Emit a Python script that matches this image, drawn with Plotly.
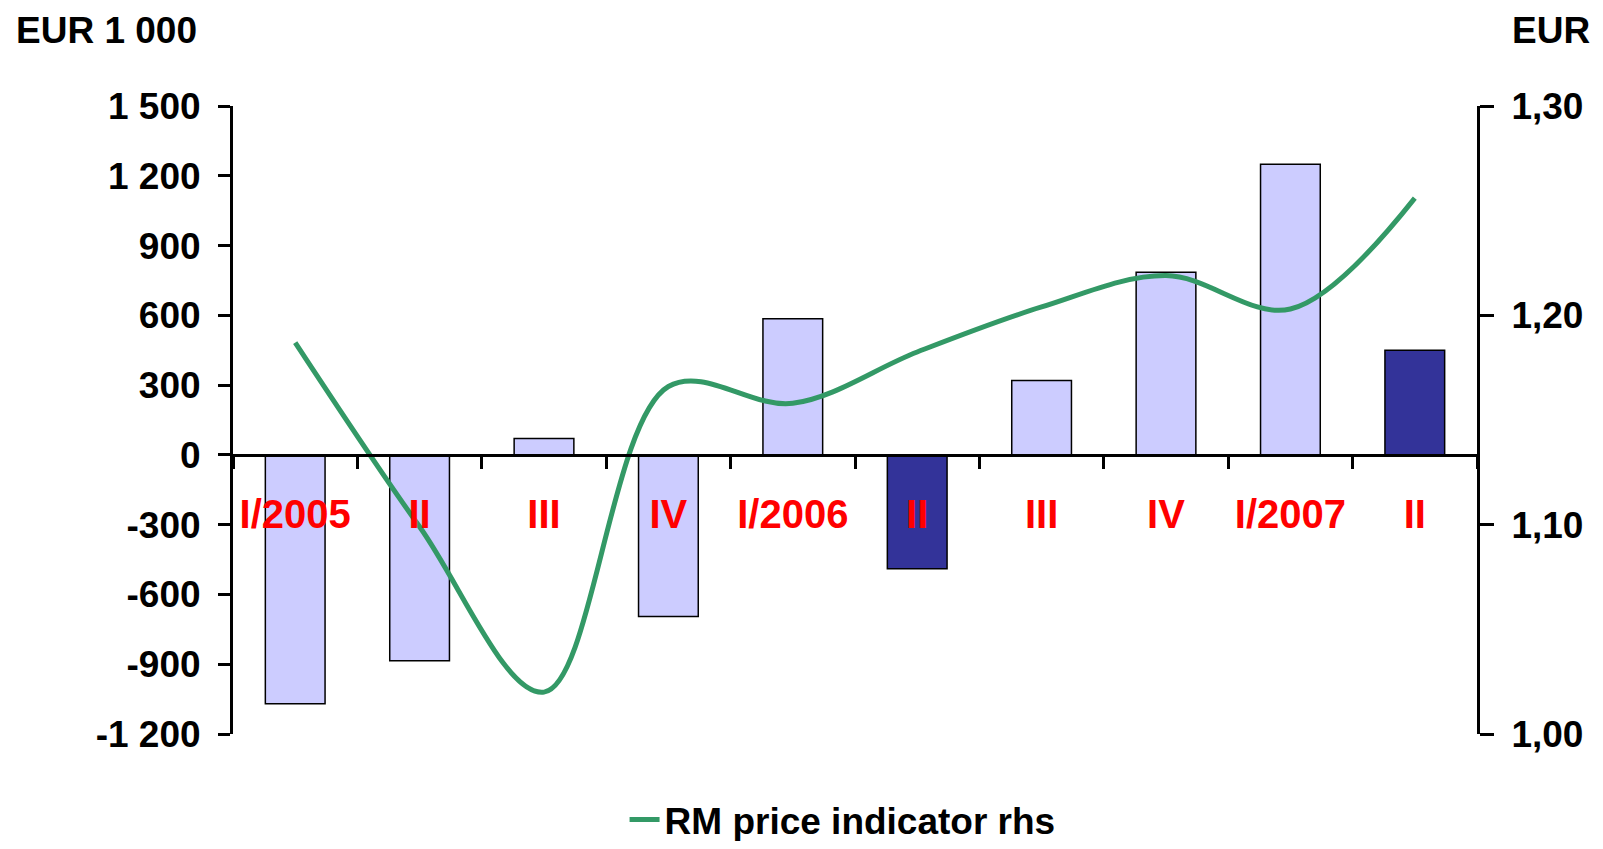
import plotly.graph_objects as go

# ---- data ----
quarters = ["I/2005", "II", "III", "IV", "I/2006", "II", "III", "IV", "I/2007", "II"]
flows = [-1070, -885, 70, -695, 585, -490, 320, 785, 1250, 450]          # EUR 1 000 (lhs)
price = [1.187, 1.099, 1.020, 1.166, 1.158, 1.1825, 1.204, 1.219, 1.203, 1.256]  # EUR (rhs)
bar_colors = ["#CCCCFF", "#CCCCFF", "#CCCCFF", "#CCCCFF", "#CCCCFF",
              "#333399", "#CCCCFF", "#CCCCFF", "#CCCCFF", "#333399"]
left_ticks = [-1200, -900, -600, -300, 0, 300, 600, 900, 1200, 1500]
left_labels = ["-1 200", "-900", "-600", "-300", "0", "300", "600", "900", "1 200", "1 500"]
right_ticks = [1.00, 1.10, 1.20, 1.30]
right_labels = ["1,00", "1,10", "1,20", "1,30"]
line_name = "RM price indicator rhs"

idx = list(range(len(quarters)))
LEFT_RANGE = [-1200, 1500]
FONT = "Liberation Sans, Arial, sans-serif"
TXT = 37
MT, PH = 98, 628

fig = go.Figure()
fig.add_trace(go.Bar(
    x=idx, y=flows, width=0.48,
    marker=dict(color=bar_colors, line=dict(color="black", width=1.5)),
    showlegend=False, yaxis="y"))
fig.add_trace(go.Scatter(
    x=idx, y=price, mode="lines", name=line_name, yaxis="y2",
    line=dict(color="#339966", width=5, shape="spline", smoothing=1.0)))

zero_pos = (0 - LEFT_RANGE[0]) / (LEFT_RANGE[1] - LEFT_RANGE[0])
top_y = 1 + (MT - 1) / PH

fig.update_layout(
    width=1587, height=833,
    margin=dict(l=225, r=118, t=MT, b=107, autoexpand=False),
    paper_bgcolor="white", plot_bgcolor="white",
    font=dict(family=FONT, size=TXT, color="black", weight="bold"),
    xaxis=dict(
        range=[-0.5, len(quarters) - 0.5],
        tickvals=idx, ticktext=quarters, ticks="",
        tickfont=dict(family=FONT, size=40, color="red", weight="bold"),
        ticklabelstandoff=23,
        showline=True, linecolor="black", linewidth=3,
        showgrid=False, zeroline=False,
        anchor="free", position=zero_pos,
        minor=dict(tick0=0.5, dtick=1, ticks="outside", ticklen=12,
                   tickwidth=3, tickcolor="black", showgrid=False),
    ),
    yaxis=dict(
        range=LEFT_RANGE, tickvals=left_ticks, ticktext=left_labels,
        ticks="outside", ticklen=12, tickwidth=3, tickcolor="black",
        showline=True, linecolor="black", linewidth=3,
        showgrid=False, zeroline=False, ticklabelstandoff=10,
        tickfont=dict(family=FONT, size=TXT, color="black", weight="bold"),
        anchor="x", automargin=False,
    ),
    yaxis2=dict(
        range=[1.00, 1.30], tickvals=right_ticks, ticktext=right_labels,
        overlaying="y", side="right", anchor="x",
        ticks="outside", ticklen=14, tickwidth=3, tickcolor="black",
        showline=True, linecolor="black", linewidth=3,
        showgrid=False, zeroline=False, ticklabelstandoff=10,
        tickfont=dict(family=FONT, size=TXT, color="black", weight="bold"),
        automargin=False,
    ),
    legend=dict(orientation="h", x=0.49, xanchor="center", y=-0.137, yanchor="middle",
                font=dict(family=FONT, size=TXT, color="black", weight="bold"),
                bgcolor="rgba(0,0,0,0)", borderwidth=0),
    annotations=[
        dict(text="EUR 1 000", xref="paper", yref="paper", x=-0.1752, y=top_y,
             xanchor="left", yanchor="top", showarrow=False, borderpad=0,
             font=dict(family=FONT, size=TXT, color="black", weight="bold")),
        dict(text="EUR", xref="paper", yref="paper", x=1.0916, y=top_y,
             xanchor="right", yanchor="top", showarrow=False, borderpad=0,
             font=dict(family=FONT, size=TXT, color="black", weight="bold")),
    ],
)

fig.write_html("out.html")
